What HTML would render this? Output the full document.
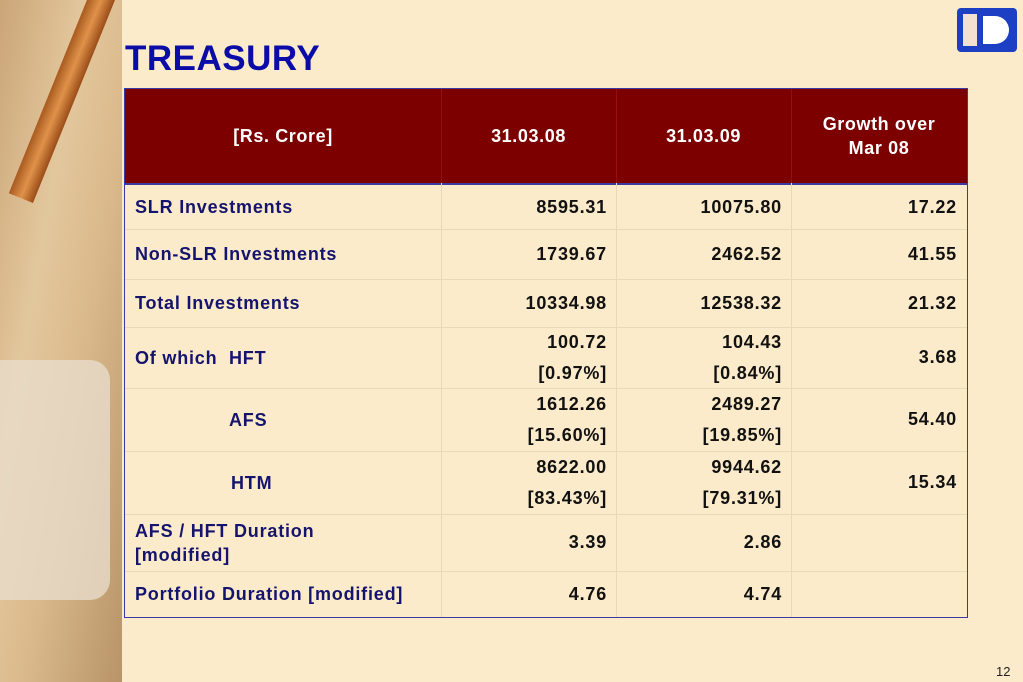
<!DOCTYPE html>
<html><head><meta charset="utf-8"><style>
body{margin:0;width:1023px;height:682px;overflow:hidden;background:#fcebca;font-family:"Liberation Sans",sans-serif;position:relative}
.a{position:absolute}
.lbl{color:#14146e;font-weight:bold;font-size:18px;letter-spacing:0.8px}
.val{color:#111;font-weight:bold;font-size:18px;letter-spacing:0.8px;text-align:right}
.hd{color:#fff;font-weight:bold;font-size:18px;letter-spacing:0.6px;text-align:center}
.hl{position:absolute;left:125px;width:842px;height:1px;background:#ead9b6}
.vl{position:absolute;top:183px;height:434px;width:1px;background:#ead9b6}
</style></head><body>
<div class="a" style="left:0;top:0;width:122px;height:682px;background:linear-gradient(100deg,#caa578 0%,#e3c79c 35%,#d9b98c 60%,#b89468 100%)"></div>
<div class="a" style="top:-20px;width:26px;height:230px;background:linear-gradient(90deg,#a85a20,#e0924a,#9a4c18);transform:rotate(22deg);transform-origin:top left;left:95px"></div>
<div class="a" style="left:-30px;top:360px;width:140px;height:240px;background:#e9dccb;border-radius:20px;opacity:.8"></div>
<div class="a" style="left:125px;top:39px;font-size:35px;letter-spacing:0.5px;font-weight:bold;color:#0b0ba8">TREASURY</div>
<div class="a" style="left:957px;top:8px;width:60px;height:44px;background:#1d3fc4;border-radius:4px"><div class="a" style="left:6px;top:6px;width:14px;height:32px;background:#f3e0d0"></div><div class="a" style="left:26px;top:8px;width:26px;height:28px;background:#fff;border-radius:0 14px 14px 0"></div></div>
<div class="a" style="left:124px;top:88px;width:842px;height:528px;border:1px solid #3a3aa0"></div>
<div class="a" style="left:125px;top:89px;width:842px;height:94px;background:#7d0000"></div>
<div class="a" style="left:441px;top:89px;width:1px;height:94px;background:#950f0f"></div>
<div class="a" style="left:616px;top:89px;width:1px;height:94px;background:#950f0f"></div>
<div class="a" style="left:791px;top:89px;width:1px;height:94px;background:#950f0f"></div>
<div class="a hd" style="left:125px;top:126px;width:316px">[Rs. Crore]</div>
<div class="a hd" style="left:441px;top:126px;width:175px">31.03.08</div>
<div class="a hd" style="left:616px;top:126px;width:175px">31.03.09</div>
<div class="a hd" style="left:791px;top:112px;width:176px;line-height:24px">Growth over<br>Mar 08</div>
<div class="a" style="left:125px;top:183px;width:842px;height:2px;background:#3a3aa0"></div>
<div class="hl" style="top:229px"></div><div class="hl" style="top:279px"></div><div class="hl" style="top:327px"></div><div class="hl" style="top:388px"></div><div class="hl" style="top:451px"></div><div class="hl" style="top:514px"></div><div class="hl" style="top:571px"></div>
<div class="vl" style="left:441px"></div><div class="vl" style="left:616px"></div><div class="vl" style="left:791px"></div>
<div id="rows"></div>
<div class="a" style="left:996px;top:664px;font-size:13px;color:#222">12</div>
<script>
const labels=["SLR Investments","Non-SLR Investments","Total Investments","Of which&nbsp; HFT","AFS","HTM","AFS / HFT Duration<br>[modified]","Portfolio Duration [modified]"];
const labelX=[135,135,135,135,229,231,135,135];
const v08=["8595.31","1739.67","10334.98","100.72<br>[0.97%]","1612.26<br>[15.60%]","8622.00<br>[83.43%]","3.39","4.76"];
const v09=["10075.80","2462.52","12538.32","104.43<br>[0.84%]","2489.27<br>[19.85%]","9944.62<br>[79.31%]","2.86","4.74"];
const growth=["17.22","41.55","21.32","3.68","54.40","15.34","",""];
const rowTop=[185,229,279,327,388,451,514,571],rowBot=[229,279,327,388,451,514,571,617];
const c=document.getElementById('rows');
function cell(html,cls,left,w,top,h,name){const d=document.createElement('div');d.className='a '+cls;d.innerHTML=html;
d.style.cssText=`left:${left}px;width:${w}px;top:${top}px;height:${h}px;display:flex;align-items:center;line-height:31px;`+(cls=='val'?'justify-content:flex-end;':'');


c.appendChild(d);}
for(let i=0;i<labels.length;i++){const t=rowTop[i],h=rowBot[i]-t;
cell(labels[i],'lbl',labelX[i],300,t,h,'row-label');
c.lastChild.style.lineHeight='24px';
cell(v08[i],'val',441,166,t,h,'value-mar08');
cell(v09[i],'val',616,166,t,h,'value-mar09');
cell(growth[i],'val',791,166,t,h,'value-growth');}
</script>
</body></html>
